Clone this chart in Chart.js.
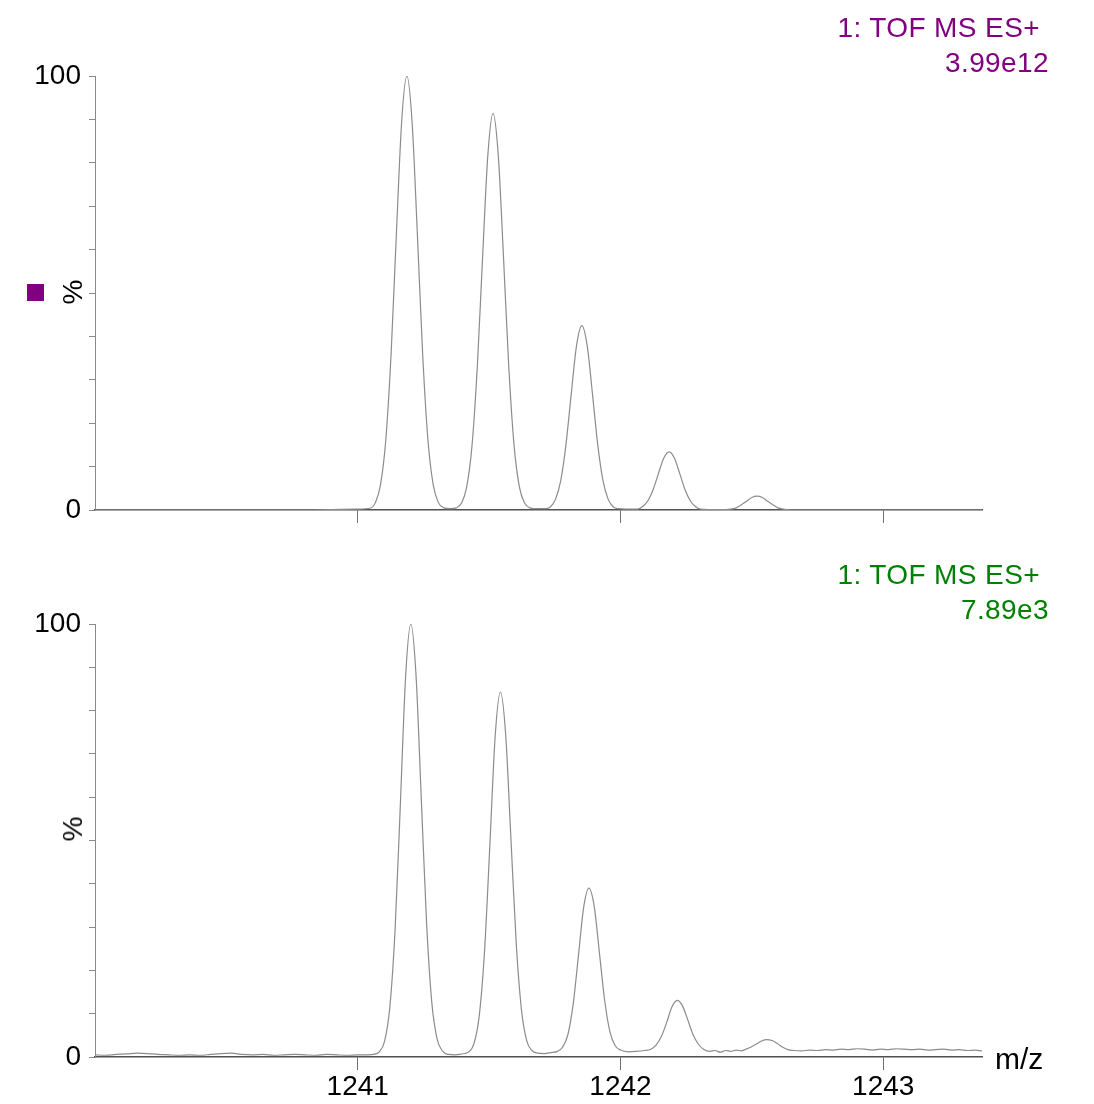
<!DOCTYPE html>
<html><head><meta charset="utf-8">
<script src="https://cdn.jsdelivr.net/npm/chart.js@4.4.1/dist/chart.umd.min.js"></script>
<style>
body{margin:0;background:#fff;width:1094px;height:1104px;overflow:hidden;position:relative;font-family:"Liberation Sans",Arial,sans-serif}
canvas{position:absolute;left:0}
#c1{top:0}
#c2{top:550px}
.t{position:absolute;font-size:28px;line-height:28px;white-space:nowrap;letter-spacing:0.4px}
.r{text-align:right}
.pct{position:absolute;font-size:28px;line-height:28px;transform:translate(-50%,-50%) rotate(-90deg);color:#000}
</style></head><body>
<canvas id="c1" width="1094" height="550"></canvas>
<canvas id="c2" width="1094" height="554"></canvas>
<div class="t r" style="right:54px;top:13.6px;color:#800080">1: TOF MS ES+</div>
<div class="t r" style="right:45px;top:49px;color:#800080">3.99e12</div>
<div class="t r" style="right:54px;top:561.3px;color:#008000">1: TOF MS ES+</div>
<div class="t r" style="right:45px;top:596.3px;color:#008000">7.89e3</div>
<div style="position:absolute;left:27px;top:284px;width:17px;height:17px;background:#800080"></div>
<div class="pct" style="left:73px;top:292px">%</div>
<div class="pct" style="left:73px;top:829px">%</div>
<div class="t" style="left:995px;top:1044px;font-size:30px;line-height:30px;letter-spacing:0;color:#000">m/z</div>
<script>
// ---- data ----
const xTicks = [1241, 1242, 1243];
const yTicks = [0, 10, 20, 30, 40, 50, 60, 70, 80, 90, 100];
const yLabels = [0, 100];
const mzMin = 1240.0, mzMax = 1243.376;

// top trace (3.99e12)
const topMz = [
  1240.00, 1240.40, 1240.80, 1240.90, 1241.00,
  1241.047, 1241.067, 1241.087, 1241.107, 1241.127, 1241.147, 1241.167, 1241.187, 1241.207, 1241.227, 1241.247, 1241.267, 1241.287, 1241.307, 1241.327,
  1241.351,
  1241.375, 1241.395, 1241.415, 1241.435, 1241.455, 1241.475, 1241.495, 1241.515, 1241.535, 1241.555, 1241.575, 1241.595, 1241.615, 1241.635, 1241.655,
  1241.684,
  1241.713, 1241.733, 1241.753, 1241.773, 1241.793, 1241.813, 1241.833, 1241.853, 1241.873, 1241.893, 1241.913, 1241.933, 1241.953, 1241.973, 1241.993,
  1242.02,
  1242.065, 1242.085, 1242.105, 1242.125, 1242.145, 1242.165, 1242.185, 1242.205, 1242.225, 1242.245, 1242.265, 1242.285, 1242.305,
  1242.35,
  1242.40, 1242.42, 1242.44, 1242.46, 1242.48, 1242.50, 1242.52, 1242.54, 1242.56, 1242.58, 1242.60, 1242.62, 1242.64,
  1242.70, 1243.00, 1243.376
];
const topInt = [
  0, 0, 0, 0.1, 0.2,
  0.4, 1.7, 5.9, 16.3, 36.0, 63.5, 89.3, 100, 89.3, 63.5, 36.0, 16.3, 5.9, 1.7, 0.5,
  0.3,
  0.5, 1.6, 5.4, 14.9, 32.9, 58.0, 81.6, 91.4, 81.6, 58.0, 32.9, 14.9, 5.4, 1.6, 0.5,
  0.3,
  0.3, 0.7, 2.5, 6.9, 15.3, 27.0, 38.0, 42.5, 38.0, 27.0, 15.3, 6.9, 2.5, 0.7, 0.3,
  0.2,
  0.2, 0.8, 2.2, 4.8, 8.5, 12.0, 13.4, 12.0, 8.5, 4.8, 2.2, 0.8, 0.2,
  0.1,
  0.1, 0.2, 0.5, 1.2, 2.0, 2.9, 3.2, 2.9, 2.0, 1.2, 0.5, 0.2, 0.05,
  0, 0, 0
];

// bottom trace (7.89e3)
const botMz = [
  1240.00, 1240.04, 1240.08, 1240.12, 1240.16, 1240.20, 1240.24, 1240.28, 1240.32, 1240.36,
  1240.40, 1240.44, 1240.48, 1240.52, 1240.56, 1240.60, 1240.64, 1240.68, 1240.72, 1240.76,
  1240.80, 1240.84, 1240.88, 1240.92, 1240.96, 1241.00, 1241.04, 1241.06,
  1241.082, 1241.102, 1241.122, 1241.142, 1241.162, 1241.182, 1241.202, 1241.222, 1241.242, 1241.262, 1241.282, 1241.302, 1241.322,
  1241.345, 1241.370, 1241.395,
  1241.423, 1241.443, 1241.463, 1241.483, 1241.503, 1241.523, 1241.543, 1241.563, 1241.583, 1241.603, 1241.623, 1241.643, 1241.663,
  1241.685, 1241.710, 1241.735,
  1241.76, 1241.78, 1241.80, 1241.82, 1241.84, 1241.86, 1241.88, 1241.90, 1241.92, 1241.94, 1241.96, 1241.98, 1242.00,
  1242.03, 1242.06, 1242.09,
  1242.116, 1242.136, 1242.156, 1242.176, 1242.196, 1242.216, 1242.236, 1242.256, 1242.276, 1242.296, 1242.316,
  1242.34, 1242.36, 1242.38, 1242.40, 1242.42, 1242.44, 1242.46,
  1242.477, 1242.497, 1242.517, 1242.537, 1242.557, 1242.577, 1242.597, 1242.617, 1242.637,
  1242.66, 1242.69, 1242.72, 1242.75, 1242.78, 1242.81, 1242.84, 1242.87, 1242.90, 1242.93,
  1242.96, 1242.99, 1243.02, 1243.05, 1243.08, 1243.11, 1243.14, 1243.17, 1243.20, 1243.23,
  1243.26, 1243.29, 1243.32, 1243.35, 1243.376
];
const botInt = [
  0.5, 0.4, 0.6, 0.7, 0.9, 0.8, 0.6, 0.5, 0.4, 0.5,
  0.4, 0.6, 0.8, 0.9, 0.6, 0.5, 0.6, 0.4, 0.5, 0.6,
  0.5, 0.4, 0.6, 0.5, 0.4, 0.5, 0.5, 0.6,
  1.2, 3.6, 11.4, 29.2, 58.0, 87.6, 100, 88.0, 59.5, 31.0, 12.5, 4.2, 1.4,
  0.6, 0.5, 0.7,
  1.2, 3.2, 9.8, 24.8, 49.1, 74.0, 84.3, 74.5, 50.5, 26.5, 11.0, 3.8, 1.5,
  0.9, 0.8, 1.0,
  1.3, 2.3, 5.2, 12.2, 23.4, 34.6, 39.0, 34.8, 24.0, 13.0, 5.8, 2.6, 1.6,
  1.2, 1.3, 1.5,
  1.8, 2.8, 4.8, 8.0, 11.6, 13.1, 11.8, 8.6, 5.2, 3.0, 1.8,
  1.3, 1.5, 1.1, 1.5, 1.3, 1.6, 1.4,
  1.8, 2.3, 3.0, 3.7, 4.0, 3.8, 3.1, 2.3, 1.7,
  1.5, 1.4, 1.6, 1.5, 1.7, 1.6, 1.8, 1.7, 1.9, 1.8,
  1.6, 1.8, 1.7, 1.9, 1.8, 1.7, 1.8, 1.6, 1.7, 1.8,
  1.6, 1.7, 1.5, 1.6, 1.4
];

// ---- charts ----
const FONT = 'Liberation Sans';
function panel(id, mz, inten, padTop, xHeight, showLabels) {
  const pts = mz.map((x, i) => ({ x: x, y: inten[i] }));
  return new Chart(document.getElementById(id), {
    type: 'line',
    data: { datasets: [{
      data: pts,
      borderColor: '#8c8c8c',
      borderWidth: 1.2,
      pointRadius: 0,
      fill: false,
      cubicInterpolationMode: 'monotone'
    }]},
    options: {
      responsive: false,
      animation: false,
      devicePixelRatio: 1,
      layout: { padding: { left: 0, right: 112, top: padTop, bottom: 0 } },
      plugins: { legend: { display: false }, tooltip: { enabled: false }, title: { display: false } },
      scales: {
        x: {
          type: 'linear', min: mzMin, max: mzMax,
          afterBuildTicks: s => { s.ticks = xTicks.map(v => ({ value: v })); },
          afterFit: s => { s.height = xHeight; },
          ticks: { display: showLabels, autoSkip: false, maxRotation: 0, padding: 0,
                   color: '#000', font: { family: FONT, size: 28 },
                   callback: v => String(v) },
          grid: { drawOnChartArea: false, tickLength: 13, color: '#707070', lineWidth: 1 },
          border: { display: true, color: '#505050', width: 1.5 }
        },
        y: {
          min: 0, max: 100,
          afterBuildTicks: s => { s.ticks = yTicks.map(v => ({ value: v })); },
          afterFit: s => { s.width = 95; },
          ticks: { autoSkip: false, padding: 8, color: '#000', font: { family: FONT, size: 28 },
                   callback: v => (yLabels.includes(v) ? String(v) : '') },
          grid: { drawOnChartArea: false, tickLength: 6, color: '#8a8a8a', lineWidth: 1 },
          border: { display: true, color: '#8a8a8a', width: 1 }
        }
      }
    }
  });
}
panel('c1', topMz, topInt, 76, 40, false);
panel('c2', botMz, botInt, 74, 47, true);
</script>
</body></html>
